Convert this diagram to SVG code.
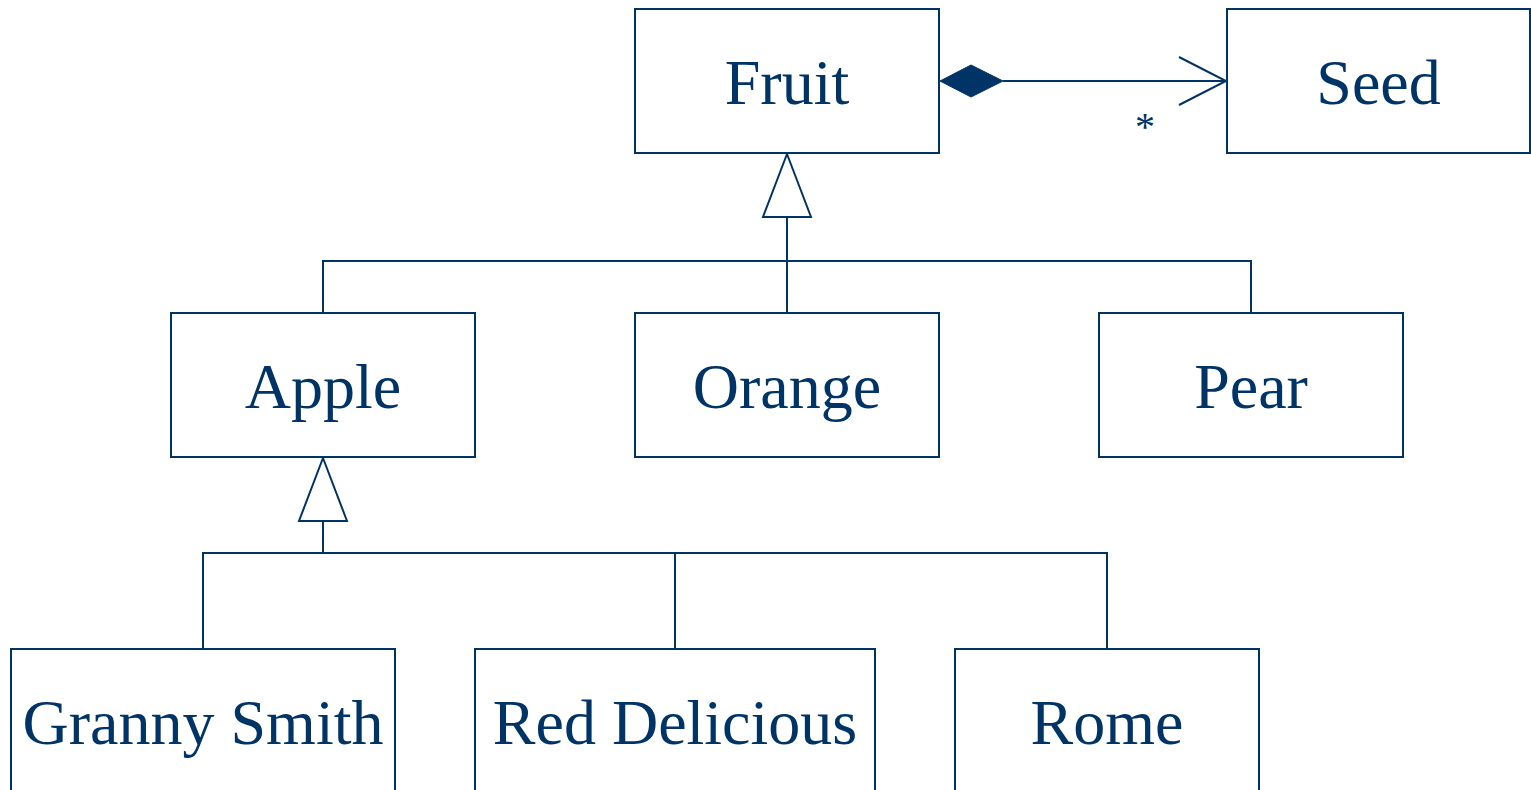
<svg xmlns="http://www.w3.org/2000/svg" width="1531" height="790" viewBox="0 0 1531 790">
<style>
.box{fill:#fff;stroke:#003366;stroke-width:2}
.lbl{font-family:"Liberation Serif","Times New Roman",serif;font-size:64px;fill:#003366;text-anchor:middle}
.ln{fill:none;stroke:#003366;stroke-width:2}
.tri{fill:#fff;stroke:#003366;stroke-width:2}
</style>
<rect width="1531" height="790" fill="#fff"/>
<g id="connectors">
<path class="ln" d="M1003,81 H1226"/>
<path class="ln" d="M1179,57 L1226,81 L1179,105"/>
<path d="M940,81 L971,65 L1003,81 L971,97 Z" fill="#003366" stroke="#003366" stroke-width="1"/>
<text x="1145" y="140" font-family="Liberation Serif, serif" font-size="40" fill="#003366" text-anchor="middle">*</text>
<path class="ln" d="M787,217 V261 M323,313 V261 H1251 V313 M787,261 V313"/>
<path class="tri" d="M787,154 L811,217 L763,217 Z"/>
<path class="ln" d="M323,521 V553 M203,649 V553 H1107 V649 M675,553 V649"/>
<path class="tri" d="M323,458 L347,521 L299,521 Z"/>
</g>
<g id="fruit"><rect class="box" x="635" y="9" width="304" height="144"/><text class="lbl" x="787" y="104">Fruit</text></g>
<g id="seed"><rect class="box" x="1227" y="9" width="303" height="144"/><text class="lbl" x="1378.5" y="104">Seed</text></g>
<g id="apple"><rect class="box" x="171" y="313" width="304" height="144"/><text class="lbl" x="323" y="408">Apple</text></g>
<g id="orange"><rect class="box" x="635" y="313" width="304" height="144"/><text class="lbl" x="787" y="408">Orange</text></g>
<g id="pear"><rect class="box" x="1099" y="313" width="304" height="144"/><text class="lbl" x="1251" y="408">Pear</text></g>
<g id="granny-smith"><rect class="box" x="11" y="649" width="384" height="150"/><text class="lbl" x="203" y="744">Granny Smith</text></g>
<g id="red-delicious"><rect class="box" x="475" y="649" width="400" height="150"/><text class="lbl" x="675" y="744">Red Delicious</text></g>
<g id="rome"><rect class="box" x="955" y="649" width="304" height="150"/><text class="lbl" x="1107" y="744">Rome</text></g>
</svg>
